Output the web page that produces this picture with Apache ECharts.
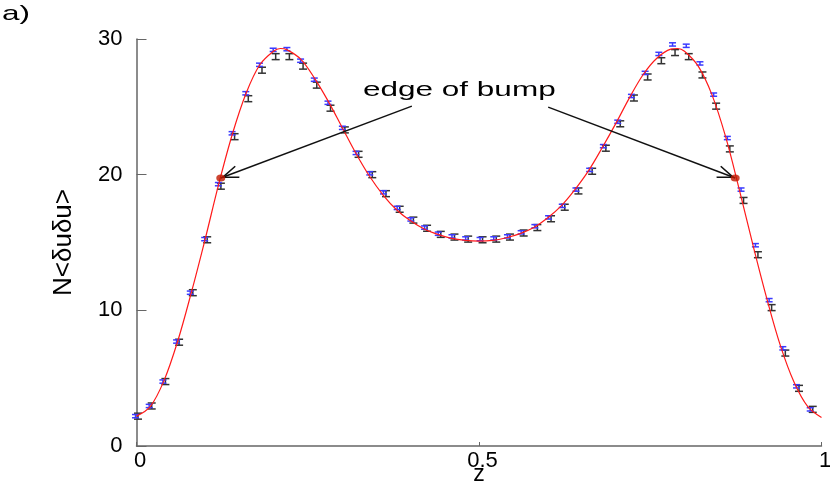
<!DOCTYPE html>
<html>
<head>
<meta charset="utf-8">
<script src="https://cdn.jsdelivr.net/npm/echarts@6/dist/echarts.min.js"></script>
<style>
  html, body { margin: 0; padding: 0; background: #fff; }
  #main { width: 830px; height: 485px; }
</style>
</head>
<body>
<div id="main"></div>
<script>
// bin positions along z
var zs = [0, 0.020, 0.040, 0.060, 0.080, 0.101, 0.121, 0.141, 0.161, 0.181,
  0.201, 0.221, 0.241, 0.261, 0.281, 0.302, 0.322, 0.342, 0.362, 0.382,
  0.402, 0.422, 0.442, 0.462, 0.482, 0.503, 0.523, 0.543, 0.563, 0.583,
  0.603, 0.623, 0.643, 0.663, 0.683, 0.704, 0.724, 0.744, 0.764, 0.784,
  0.804, 0.824, 0.844, 0.864, 0.884, 0.905, 0.925, 0.945, 0.965, 0.985];
// black data set
var blackVals = [2.2, 2.95, 4.75, 7.65, 11.3, 15.2, 19.15, 22.8, 25.6, 27.7,
  28.7, 28.7, 28.0, 26.6, 24.9, 23.3, 21.5, 20.0, 18.6, 17.45,
  16.65, 16.05, 15.6, 15.4, 15.25, 15.2, 15.25, 15.4, 15.7, 16.1,
  16.75, 17.6, 18.8, 20.25, 21.95, 23.75, 25.65, 27.2, 28.4, 29.0,
  28.7, 27.35, 25.05, 21.9, 18.1, 14.1, 10.2, 6.85, 4.25, 2.7];
// blue data set
var blueVals = [2.2, 2.95, 4.75, 7.7, 11.3, 15.25, 19.3, 23.05, 26.0, 28.1,
  29.2, 29.25, 28.4, 27.0, 25.3, 23.45, 21.6, 20.1, 18.7, 17.55,
  16.7, 16.1, 15.65, 15.45, 15.3, 15.25, 15.3, 15.45, 15.75, 16.2,
  16.85, 17.7, 18.9, 20.35, 22.1, 23.9, 25.8, 27.5, 28.9, 29.6,
  29.5, 28.2, 25.9, 22.7, 18.9, 14.8, 10.75, 7.2, 4.4, 2.7];
var blackErr = 0.22;
var blueErr = 0.12;

// red fit curve
var curveZ = [0, 0.02, 0.04, 0.06, 0.08, 0.10, 0.12, 0.14, 0.16, 0.18,
  0.20, 0.21, 0.22, 0.24, 0.26, 0.28, 0.30, 0.32, 0.34, 0.36,
  0.38, 0.40, 0.42, 0.44, 0.46, 0.48, 0.50, 0.52, 0.54, 0.56,
  0.58, 0.60, 0.62, 0.64, 0.66, 0.68, 0.70, 0.72, 0.74, 0.76,
  0.78, 0.79, 0.80, 0.82, 0.84, 0.86, 0.88, 0.90, 0.92, 0.94,
  0.96, 0.98, 1.0];
var curveV = [2.2, 2.9, 4.8, 7.7, 11.3, 15.2, 19.3, 23.0, 26.0, 28.1,
  29.1, 29.3, 29.2, 28.5, 27.1, 25.4, 23.5, 21.6, 19.9, 18.5,
  17.4, 16.6, 16.0, 15.6, 15.3, 15.15, 15.1, 15.15, 15.35, 15.65,
  16.1, 16.8, 17.7, 18.9, 20.3, 22.0, 23.8, 25.7, 27.4, 28.6,
  29.25, 29.3, 29.1, 28.0, 25.9, 22.8, 18.9, 14.8, 10.9, 7.4,
  4.7, 2.9, 2.1];

// edge of bump points and arrows
var edgePts = [[0.123, 19.75], [0.874, 19.75]];
var arrowFrom = [[0.402, 25.05], [0.601, 24.98]];

var xTicks = ['0', '0.5', '1'];
var yTicks = ['0', '10', '20', '30'];

var chart = echarts.init(document.getElementById('main'));

function errorBar(color, capHalf, dx, width) {
  return function (params, api) {
    var z = api.value(0);
    var lo = api.coord([z, api.value(1)]);
    var hi = api.coord([z, api.value(2)]);
    var x = lo[0] + dx;
    var st = { stroke: color, lineWidth: width };
    return {
      type: 'group',
      children: [
        { type: 'line', shape: { x1: x, y1: lo[1], x2: x, y2: hi[1] }, style: st },
        { type: 'line', shape: { x1: x - capHalf, y1: lo[1], x2: x + capHalf, y2: lo[1] }, style: st },
        { type: 'line', shape: { x1: x - capHalf, y1: hi[1], x2: x + capHalf, y2: hi[1] }, style: st }
      ]
    };
  };
}

var blackData = blackVals.map(function (v, i) { return [zs[i], v - blackErr, v + blackErr]; });
var blueData = blueVals.map(function (v, i) { return [zs[i], v - blueErr, v + blueErr]; });
var curveData = curveZ.map(function (z, i) { return [z, curveV[i]]; });

var font = 'Liberation Sans, Arial, sans-serif';

var option = {
  animation: false,
  backgroundColor: '#fff',
  grid: { left: 136.5, right: 8.5, top: 39, bottom: 39, outerBoundsMode: 'none', containLabel: false },
  xAxis: {
    type: 'value', min: 0, max: 1, interval: 0.5,
    name: 'z', nameLocation: 'middle', nameGap: 17, nameMoveOverlap: false,
    nameTextStyle: { fontSize: 23, color: '#000', fontFamily: font, verticalAlign: 'top' },
    axisLine: { lineStyle: { color: '#666', width: 1.5 } },
    axisTick: { inside: true, length: 4, lineStyle: { color: '#666' } },
    splitLine: { show: false },
    axisLabel: {
      margin: 4, fontSize: 22, color: '#000', fontFamily: font,
      padding: [0, 0, 0, 7],
      formatter: function (v) { return xTicks[Math.round(v * 2)]; }
    }
  },
  yAxis: {
    type: 'value', min: 0, max: 30, interval: 10,
    name: 'N<δuδu>', nameLocation: 'middle', nameRotate: 90, nameGap: 60,
    nameMoveOverlap: false,
    nameTextStyle: { fontSize: 26, color: '#000', fontFamily: font },
    axisLine: { show: true, lineStyle: { color: '#666', width: 1.5 } },
    axisTick: { show: true, inside: true, length: 10, lineStyle: { color: '#666' } },
    splitLine: { show: false },
    axisLabel: {
      margin: 14, fontSize: 22, color: '#000', fontFamily: font,
      formatter: function (v) { return yTicks[Math.round(v / 10)]; }
    }
  },
  graphic: [
    { type: 'text', left: 2, top: 4, scaleX: 1.5,
      style: { text: 'a)', fill: '#000', font: '21px ' + font } },
    { type: 'text', left: 363, top: 80, scaleX: 1.5,
      style: { text: 'edge of bump', fill: '#000', font: '21px ' + font } }
  ],
  series: [
    {
      type: 'custom', name: 'black', data: blackData,
      renderItem: errorBar('#333', 4, 1.5, 1.5), z: 2
    },
    {
      type: 'custom', name: 'blue', data: blueData,
      renderItem: errorBar('#3a3aff', 3.5, -1, 1.5), z: 3
    },
    {
      type: 'line', name: 'fit', data: curveData, smooth: 0.35,
      showSymbol: false, lineStyle: { color: '#ff1a1a', width: 1.2 }, z: 4
    },
    {
      type: 'scatter', name: 'edge', data: edgePts,
      symbol: 'circle', symbolSize: [9, 7], itemStyle: { color: '#c01800' }, z: 5,
      markLine: {
        silent: true,
        symbol: ['none', 'path://M5,0 L10,16 L9,16.6 L5,4 L1,16.6 L0,16 Z'],
        symbolSize: [13, 18],
        symbolOffset: [0, [0, 9]],
        label: { show: false },
        lineStyle: { color: '#111', width: 1.5, type: 'solid' },
        data: [
          [{ coord: arrowFrom[0] }, { coord: edgePts[0] }],
          [{ coord: arrowFrom[1] }, { coord: edgePts[1] }]
        ]
      }
    }
  ]
};

chart.setOption(option);
</script>
</body>
</html>
